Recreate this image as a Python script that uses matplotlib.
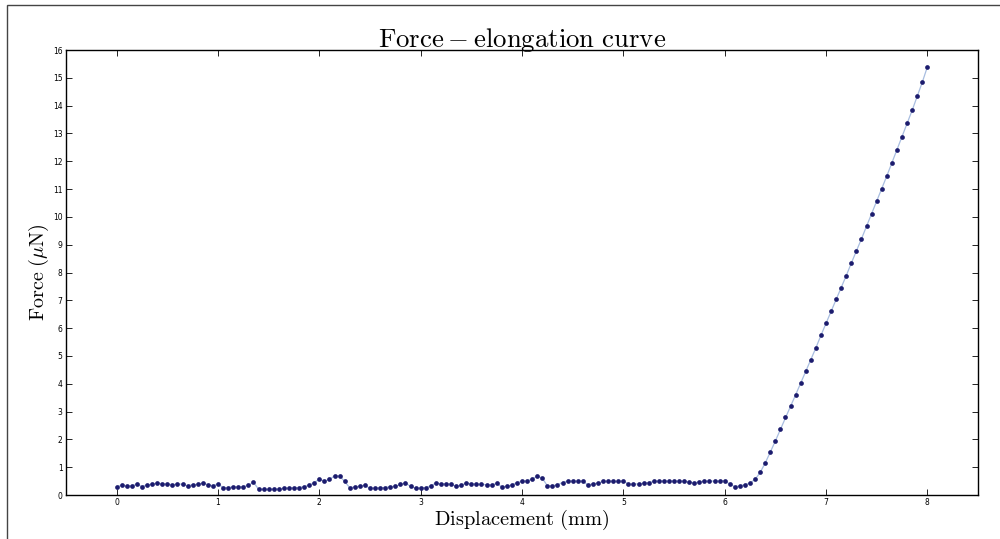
import numpy as np
import matplotlib.pyplot as plt
from matplotlib.patches import Rectangle

displacement = np.round(np.arange(161) * 0.05, 2)
force = [
    0.30, 0.35, 0.32, 0.33, 0.39, 0.30, 0.37, 0.38, 0.43, 0.40,
    0.39, 0.37, 0.39, 0.39, 0.33, 0.37, 0.38, 0.43, 0.37, 0.33,
    0.40, 0.26, 0.27, 0.29, 0.29, 0.30, 0.35, 0.46, 0.21, 0.20,
    0.20, 0.21, 0.21, 0.24, 0.25, 0.26, 0.27, 0.30, 0.36, 0.44,
    0.57, 0.50, 0.56, 0.69, 0.68, 0.49, 0.26, 0.29, 0.32, 0.35,
    0.24, 0.25, 0.26, 0.27, 0.30, 0.31, 0.38, 0.43, 0.31, 0.24,
    0.25, 0.27, 0.33, 0.43, 0.40, 0.40, 0.39, 0.31, 0.35, 0.43,
    0.40, 0.39, 0.38, 0.37, 0.36, 0.42, 0.29, 0.31, 0.36, 0.45,
    0.49, 0.51, 0.57, 0.68, 0.61, 0.33, 0.33, 0.37, 0.45, 0.50,
    0.50, 0.50, 0.50, 0.36, 0.40, 0.43, 0.49, 0.50, 0.49, 0.49,
    0.51, 0.39, 0.39, 0.40, 0.42, 0.45, 0.49, 0.50, 0.50, 0.50,
    0.50, 0.50, 0.49, 0.46, 0.43, 0.48, 0.49, 0.50, 0.50, 0.50,
    0.52, 0.39, 0.30, 0.33, 0.37, 0.43, 0.56, 0.81, 1.15, 1.54,
    1.94, 2.36, 2.79, 3.19, 3.60, 4.02, 4.45, 4.87, 5.29, 5.74,
    6.17, 6.60, 7.03, 7.45, 7.89, 8.34, 8.77, 9.21, 9.66, 10.10,
    10.56, 11.00, 11.47, 11.94, 12.40, 12.87, 13.36, 13.83, 14.33, 14.84,
    15.39,
]
xticks = list(range(0, 9))
yticks = list(range(0, 17))

plt.rcParams['mathtext.fontset'] = 'cm'
plt.rcParams['axes.unicode_minus'] = False

fig = plt.figure(figsize=(10.0, 5.39), dpi=100)
ax = fig.add_axes([0.066, 0.0816, 0.912, 0.8256])

# Outer frame of the original figure
fig.patches.append(Rectangle((0.007, -0.1), 1.2, 1.0907, transform=fig.transFigure,
                             fill=False, edgecolor='#444444', linewidth=1.0))

# Data: thin light line with dark dots
ax.plot(displacement, force, '-', color='#a8bde0', linewidth=0.9, zorder=2)
ax.plot(displacement, force, 'o', color='#1c1c6e', markersize=3.4,
        markeredgewidth=0, zorder=3)

ax.set_xlim(-0.5, 8.5)
ax.set_ylim(0, 16)
ax.set_xticks(xticks)
ax.set_yticks(yticks)
ax.tick_params(direction='in', top=True, right=True, length=4, width=0.6,
               labelsize=5.5, pad=2.5)
for side in ax.spines.values():
    side.set_linewidth(1.0)

ax.set_title(r'$\mathrm{Force - elongation\ curve}$', fontsize=19.3, pad=2.5)
ax.set_xlabel(r'$\mathrm{Displacement\ (mm)}$', fontsize=14.7, labelpad=0)
ax.set_ylabel(r'$\mathrm{Force\ (}\mu\mathrm{N)}$', fontsize=14.5, labelpad=1.5)

plt.savefig('out.png', dpi=100)
